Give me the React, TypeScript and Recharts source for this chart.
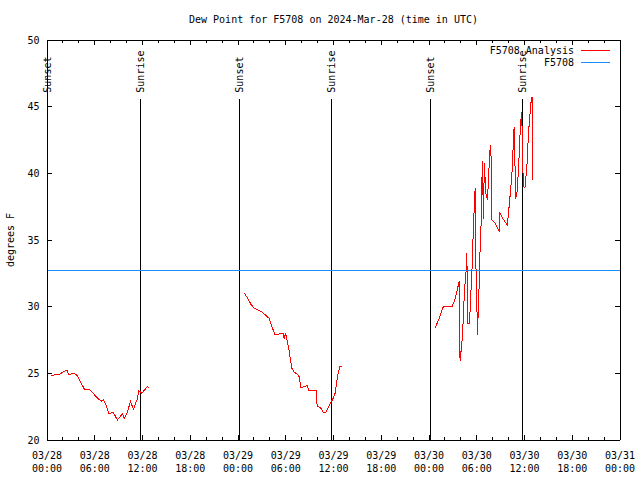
import React from 'react';
import { ComposedChart, Line, XAxis, YAxis, ReferenceLine, Legend } from 'recharts';

const TITLE = 'Dew Point for F5708 on 2024-Mar-28 (time in UTC)';
const Y_LABEL = 'degrees F';
const ANALYSIS_NAME = 'F5708 Analysis';
const OBS_NAME = 'F5708';
const LEGEND_ORDER = [ANALYSIS_NAME, OBS_NAME];

// hours since 03/28 00:00 UTC
const X_DOMAIN = [0, 72];
const X_MAJOR_TICKS = [0, 6, 12, 18, 24, 30, 36, 42, 48, 54, 60, 66, 72];
const X_MINOR_TICKS = [0, 2, 4, 6, 8, 10, 12, 14, 16, 18, 20, 22, 24, 26, 28, 30, 32, 34, 36, 38, 40, 42, 44, 46, 48, 50, 52, 54, 56, 58, 60, 62, 64, 66, 68, 70, 72];
const X_TICK_DATES = ['03/28', '03/28', '03/28', '03/28', '03/29', '03/29', '03/29', '03/29', '03/30', '03/30', '03/30', '03/30', '03/31'];
const X_TICK_TIMES = ['00:00', '06:00', '12:00', '18:00', '00:00', '06:00', '12:00', '18:00', '00:00', '06:00', '12:00', '18:00', '00:00'];
const Y_DOMAIN = [20, 50];
const Y_TICKS = [20, 25, 30, 35, 40, 45, 50];

const SEG1_T = [0.5, 1.0, 1.6, 2.5, 2.7, 3.3, 3.7, 4.1, 4.7, 5.4, 5.8, 6.4, 6.9, 7.1, 7.5, 7.8, 8.3, 8.85, 9.2, 9.5, 9.7, 10.1, 10.5, 10.85, 11.3, 11.55, 11.9, 12.6, 12.85];
const SEG1_V = [24.8, 24.9, 24.95, 25.25, 24.9, 25.0, 24.9, 24.5, 23.8, 23.75, 23.5, 23.1, 22.9, 23.0, 22.5, 21.95, 22.1, 21.5, 21.75, 22.0, 21.6, 22.1, 22.9, 22.3, 23.0, 23.7, 23.5, 24.0, 23.9];

const SEG2_T = [24.8, 25.3, 25.6, 26.0, 26.55, 27.0, 27.4, 27.95, 28.2, 28.65, 29.2, 29.7, 29.8, 29.95, 30.2, 30.45, 30.75, 31.05, 31.4, 31.7, 31.9, 32.4, 32.7, 32.9, 33.4, 33.8, 33.95, 34.4, 34.7, 35.0, 35.55, 35.9, 36.2, 36.5, 36.8, 37.0];
const SEG2_V = [31.0, 30.55, 30.2, 29.9, 29.75, 29.6, 29.4, 29.1, 28.6, 27.9, 27.95, 28.0, 27.55, 28.05, 27.4, 26.6, 25.4, 25.1, 24.95, 24.75, 23.95, 24.0, 24.1, 23.7, 23.7, 23.75, 22.55, 22.4, 22.1, 22.05, 22.7, 23.05, 23.5, 24.75, 25.5, 25.55];

const SEG3_T = [48.75, 49.2, 49.8, 50.4, 50.9, 51.3, 51.6, 51.8, 51.9, 52.0, 52.2, 52.3, 52.45, 52.65, 52.75, 52.9, 53.1, 53.15, 53.4, 53.6, 53.8, 53.9, 54.1, 54.2, 54.3, 54.4, 54.55, 54.7, 54.85, 54.95, 55.15, 55.35, 55.55, 55.7, 55.8, 55.9, 56.3, 56.85, 56.9, 57.4, 57.85, 58.2, 58.4, 58.6, 58.7, 58.9, 59.1, 59.3, 59.5, 59.65, 59.85, 60.05, 60.3, 60.5, 60.7, 60.8, 60.95, 61.0];
const SEG3_V = [28.4, 29.0, 30.0, 30.05, 30.0, 30.6, 31.4, 31.9, 25.9, 26.5, 27.75, 29.0, 31.1, 32.6, 34.0, 28.75, 28.75, 29.6, 32.75, 36.25, 38.9, 33.0, 27.9, 30.0, 31.5, 33.9, 36.25, 40.9, 36.6, 40.75, 38.5, 38.0, 40.5, 42.1, 41.25, 36.5, 36.25, 35.6, 37.0, 36.5, 36.1, 38.4, 39.75, 42.25, 43.5, 38.1, 38.75, 41.0, 43.75, 44.6, 39.0, 38.9, 40.5, 43.0, 44.5, 45.25, 45.75, 39.5];

const OBS_T = [0, 72];
const OBS_V = [32.75, 32.75];

const SUN_EVENTS = ['Sunset', 'Sunrise', 'Sunset', 'Sunrise', 'Sunset', 'Sunrise'];
const SUN_TIMES = [0.05, 11.77, 24.13, 35.7, 48.25, 59.8];
const SUN_LINE_TOP = 45.6;

const FONT = '"DejaVu Sans Mono", "Liberation Mono", monospace';
const FS = 10;
const RED = '#ff0000';
const BLUE = '#1a8cff';

const toRows = (ts: number[], vs: number[]) => ts.map((t, i) => ({ t, v: vs[i] }));
const seg1 = toRows(SEG1_T, SEG1_V);
const seg2 = toRows(SEG2_T, SEG2_V);
const seg3 = toRows(SEG3_T, SEG3_V);
const obs = toRows(OBS_T, OBS_V);

const XTickBottom = (props: any) => {
  const { x, y, payload } = props;
  const t = payload.value;
  const idx = X_MAJOR_TICKS.indexOf(t);
  const major = idx >= 0;
  return (
    <g>
      <line x1={x} x2={x} y1={y} y2={y - (major ? 5 : 3)} stroke="#000" />
      {major && (
        <text x={x} y={y + 15} textAnchor="middle" dominantBaseline="central" fontFamily={FONT} fontSize={FS} fill="#000">
          {X_TICK_DATES[idx]}
        </text>
      )}
      {major && (
        <text x={x} y={y + 28} textAnchor="middle" dominantBaseline="central" fontFamily={FONT} fontSize={FS} fill="#000">
          {X_TICK_TIMES[idx]}
        </text>
      )}
    </g>
  );
};

const XTickTop = (props: any) => {
  const { x, y, payload } = props;
  const major = X_MAJOR_TICKS.indexOf(payload.value) >= 0;
  return <line x1={x} x2={x} y1={y} y2={y + (major ? 5 : 3)} stroke="#000" />;
};

const YTickLeft = (props: any) => {
  const { x, y, payload } = props;
  return (
    <g>
      <line x1={x} x2={x + 5} y1={y} y2={y} stroke="#000" />
      <text x={x - 7.5} y={y} textAnchor="end" dominantBaseline="central" fontFamily={FONT} fontSize={FS} fill="#000">
        {payload.value}
      </text>
    </g>
  );
};

const YTickRight = (props: any) => {
  const { x, y } = props;
  return <line x1={x} x2={x - 5} y1={y} y2={y} stroke="#000" />;
};

const TitleLabel = (props: any) => {
  const { viewBox } = props;
  return (
    <text x={viewBox.x + viewBox.width / 2} y={viewBox.y - 20} textAnchor="middle" dominantBaseline="central" fontFamily={FONT} fontSize={FS} fill="#000">
      {TITLE}
    </text>
  );
};

const YLabel = (props: any) => {
  const { viewBox } = props;
  const cx = viewBox.x + 10.5;
  const cy = viewBox.y + viewBox.height / 2;
  return (
    <text transform={`translate(${cx},${cy}) rotate(-90)`} textAnchor="middle" dominantBaseline="central" fontFamily={FONT} fontSize={FS} fill="#000">
      {Y_LABEL}
    </text>
  );
};

const SunLabel = (props: any) => {
  const { viewBox, text } = props;
  const x = viewBox.x;
  const y = viewBox.y - 6;
  return (
    <text transform={`translate(${x},${y}) rotate(-90)`} textAnchor="start" dominantBaseline="central" fontFamily={FONT} fontSize={FS} fill="#000">
      {text}
    </text>
  );
};

const LegendContent = (props: any) => {
  const items = (props.payload || [])
    .filter((p: any) => p.type !== 'none')
    .slice()
    .sort((a: any, b: any) => LEGEND_ORDER.indexOf(a.value) - LEGEND_ORDER.indexOf(b.value));
  return (
    <svg width={150} height={30} style={{ display: 'block', shapeRendering: 'crispEdges' }}>
      {items.map((p: any, i: number) => (
        <g key={i}>
          <text x={104} y={8 + i * 12.5} textAnchor="end" dominantBaseline="central" fontFamily={FONT} fontSize={FS} fill="#000">
            {p.value}
          </text>
          <line x1={111} x2={140} y1={8 + i * 12.5} y2={8 + i * 12.5} stroke={p.color} strokeWidth={1} />
        </g>
      ))}
    </svg>
  );
};

export default function App() {
  return (
    <div style={{ position: 'absolute', left: 0, top: 0, width: 640, height: 480, background: '#fff' }}>
      <ComposedChart width={640} height={480} margin={{ top: 39, right: 19, bottom: 0, left: 0 }} style={{ shapeRendering: 'crispEdges' }}>
        <XAxis
          xAxisId="bottom"
          dataKey="t"
          type="number"
          domain={X_DOMAIN}
          ticks={X_MINOR_TICKS}
          interval={0}
          allowDataOverflow
          orientation="bottom"
          height={40}
          tickSize={0}
          tickMargin={0}
          tickLine={false}
          axisLine={{ stroke: '#000' }}
          tick={<XTickBottom />}
        />
        <XAxis
          xAxisId="top"
          dataKey="t"
          type="number"
          domain={X_DOMAIN}
          ticks={X_MINOR_TICKS}
          interval={0}
          allowDataOverflow
          orientation="top"
          height={1}
          tickSize={0}
          tickMargin={0}
          tickLine={false}
          axisLine={false}
          tick={<XTickTop />}
          label={<TitleLabel />}
        />
        <YAxis
          yAxisId="left"
          type="number"
          domain={Y_DOMAIN}
          ticks={Y_TICKS}
          interval={0}
          allowDataOverflow
          orientation="left"
          width={47}
          tickSize={0}
          tickMargin={0}
          tickLine={false}
          axisLine={{ stroke: '#000' }}
          tick={<YTickLeft />}
          label={<YLabel />}
        />
        <YAxis
          yAxisId="right"
          type="number"
          domain={Y_DOMAIN}
          ticks={Y_TICKS}
          interval={0}
          allowDataOverflow
          orientation="right"
          width={1}
          tickSize={0}
          tickMargin={0}
          tickLine={false}
          axisLine={false}
          tick={<YTickRight />}
        />
        <ReferenceLine xAxisId="top" yAxisId="left" y={Y_DOMAIN[1]} stroke="#000" strokeWidth={1} ifOverflow="visible" />
        <ReferenceLine xAxisId="bottom" yAxisId="right" x={X_DOMAIN[1]} stroke="#000" strokeWidth={1} ifOverflow="visible" />
        {SUN_TIMES.map((t, i) => (
          <ReferenceLine
            key={'sun' + i}
            xAxisId="bottom"
            yAxisId="left"
            segment={[{ x: t, y: Y_DOMAIN[0] }, { x: t, y: SUN_LINE_TOP }]}
            stroke="#000"
            strokeWidth={1}
            ifOverflow="visible"
            label={<SunLabel text={SUN_EVENTS[i]} />}
          />
        ))}
        <Line xAxisId="bottom" yAxisId="left" data={seg1} dataKey="v" name={ANALYSIS_NAME} stroke={RED} strokeWidth={1} dot={false} isAnimationActive={false} type="linear" />
        <Line xAxisId="bottom" yAxisId="left" data={seg2} dataKey="v" name={ANALYSIS_NAME} legendType="none" stroke={RED} strokeWidth={1} dot={false} isAnimationActive={false} type="linear" />
        <Line xAxisId="bottom" yAxisId="left" data={seg3} dataKey="v" name={ANALYSIS_NAME} legendType="none" stroke={RED} strokeWidth={1} dot={false} isAnimationActive={false} type="linear" />
        <Line xAxisId="bottom" yAxisId="left" data={obs} dataKey="v" name={OBS_NAME} stroke={BLUE} strokeWidth={1} dot={false} isAnimationActive={false} type="linear" />
        <Legend
          layout="horizontal"
          verticalAlign="middle"
          align="center"
          content={<LegendContent />}
          wrapperStyle={{ position: 'absolute', top: 42, left: 470, width: 150, height: 30 }}
        />
      </ComposedChart>
    </div>
  );
}
